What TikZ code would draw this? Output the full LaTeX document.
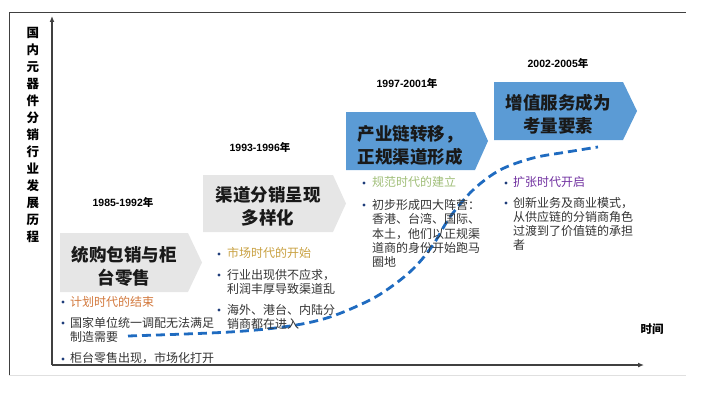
\documentclass[tikz,border=0pt]{standalone}
\usepackage{fontspec}
\setmainfont{Noto Sans CJK SC}
\newfontfamily\lat{Liberation Sans}
\usetikzlibrary{arrows.meta}
\definecolor{boxgray}{HTML}{E6E6E6}
\definecolor{boxblue}{HTML}{5B9BD5}
\definecolor{curveblue}{HTML}{1F6BC0}
\definecolor{dotblue}{HTML}{1F3D7A}
\definecolor{txtgray}{HTML}{333333}
\definecolor{orangeT}{HTML}{D2783C}
\definecolor{goldT}{HTML}{C8A040}
\definecolor{greenT}{HTML}{A0BE78}
\definecolor{purpleT}{HTML}{7030A0}
\definecolor{axisgray}{HTML}{404040}
\begin{document}
\begin{tikzpicture}[x=1pt,y=-1pt,
  every node/.style={inner sep=0pt, outer sep=0pt},
  yearlbl/.style={font=\lat\bfseries\fontsize{10.5}{12}\selectfont, text=black},
  titlelbl/.style={font=\bfseries\fontsize{17.5}{23}\selectfont, align=center, text=black!90},
  bodytxt/.style={font=\fontsize{12}{14}\selectfont, align=left, anchor=west, text=txtgray},
  dotmark/.style={fill=dotblue},
  axisline/.style={draw=axisgray, line width=1.3pt},
  curvestyle/.style={draw=curveblue, line width=2.8pt, dash pattern=on 9pt off 5pt}
]
\useasboundingbox (0,0) rectangle (701,396);
% frame
\draw[black!75, line width=1pt] (9,375) -- (9,13) -- (686,13);
\draw[black!12, line width=0.8pt] (9,375) -- (686,375);

% axes
\coordinate (O) at (52,365);
\coordinate (Ytop) at (52,16);
\coordinate (Xend) at (644,365);
\draw[axisline, -{Latex[length=6pt,width=5pt]}] (O) -- (Ytop);
\draw[axisline, -{Latex[length=6pt,width=5pt]}] (O) -- (Xend);

% vertical label
\node[font=\bfseries\fontsize{12.5}{17}\selectfont, align=center] (ylab) at (33,135)
  {国\\内\\元\\器\\件\\分\\销\\行\\业\\发\\展\\历\\程};
\node[font=\bfseries\fontsize{11.5}{13}\selectfont] (xlab) at (652,329) {时间};

% chevrons
\fill[boxgray] (60,233) -- (188,233) -- (202,262.5) -- (188,292) -- (60,292) -- cycle;
\fill[boxgray] (203,175) -- (333,175) -- (346,203.5) -- (333,232) -- (203,232) -- cycle;
\fill[boxblue] (346,112) -- (475,112) -- (488,141) -- (475,170) -- (346,170) -- cycle;
\fill[boxblue] (494,82) -- (623,82) -- (637,111) -- (623,140) -- (494,140) -- cycle;

\node[titlelbl] (t1) at (124,266) {统购包销与柜\\台零售};
\node[titlelbl] (t2) at (268,206) {渠道分销呈现\\多样化};
\node[titlelbl] (t3) at (410,145) {产业链转移，\\正规渠道形成};
\node[titlelbl] (t4) at (558,114) {增值服务成为\\考量要素};

% years
\node[yearlbl] (y1) at (123,202) {1985-1992{\rmfamily 年}};
\node[yearlbl] (y2) at (260,147) {1993-1996{\rmfamily 年}};
\node[yearlbl] (y3) at (407,83) {1997-2001{\rmfamily 年}};
\node[yearlbl] (y4) at (558,63) {2002-2005{\rmfamily 年}};

% dashed curve
\draw[curvestyle] plot[smooth, tension=0.55] coordinates {
  (128,336) (230,332) (290,326) (330,317) (370,300) (395,284) (415,267)
  (433,245) (450,217) (473,190) (500,170) (533,158) (567,152) (598,147)};

% column 1
\fill[dotmark] (63,302) circle (1.6);
\node[bodytxt, text=orangeT] (c1a) at (70,302) {计划时代的结束};
\fill[dotmark] (63,323) circle (1.6);
\node[bodytxt] (c1b) at (70,330) {国家单位统一调配无法满足\\制造需要};
\fill[dotmark] (63,359) circle (1.6);
\node[bodytxt] (c1c) at (70,358) {柜台零售出现，市场化打开};

% column 2
\fill[dotmark] (219,254) circle (1.6);
\node[bodytxt, text=goldT] (c2a) at (227,253) {市场时代的开始};
\fill[dotmark] (219,275) circle (1.6);
\node[bodytxt] (c2b) at (227,281.5) {行业出现供不应求，\\利润丰厚导致渠道乱};
\fill[dotmark] (219,310) circle (1.6);
\node[bodytxt] (c2c) at (227,316.5) {海外、港台、内陆分\\销商都在进入};

% column 3
\fill[dotmark] (364,183) circle (1.6);
\node[bodytxt, text=greenT] (c3a) at (372,182) {规范时代的建立};
\fill[dotmark] (364,205) circle (1.6);
\node[bodytxt, font=\fontsize{12}{14.3}\selectfont] (c3b) at (372,233.5)
  {初步形成四大阵营：\\香港、台湾、国际、\\本土，他们以正规渠\\道商的身份开始跑马\\圈地};

% column 4
\fill[dotmark] (506,183) circle (1.6);
\node[bodytxt, text=purpleT] (c4a) at (513,182) {扩张时代开启};
\fill[dotmark] (506,203) circle (1.6);
\node[bodytxt] (c4b) at (513,224)
  {创新业务及商业模式，\\从供应链的分销商角色\\过渡到了价值链的承担\\者};
\end{tikzpicture}
\end{document}
